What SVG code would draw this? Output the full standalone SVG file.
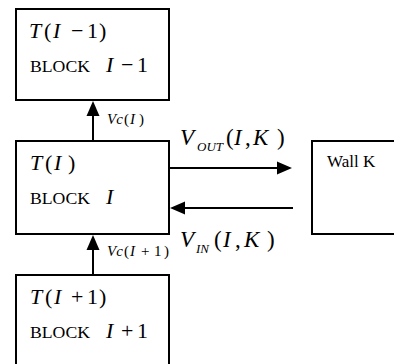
<svg xmlns="http://www.w3.org/2000/svg" width="394" height="364" viewBox="0 0 394 364" font-family="'Liberation Serif', 'Times New Roman', Times, 'DejaVu Serif', serif">
  <style>
    .box { fill: #fff; stroke: #000; stroke-width: 2; }
    .edge { stroke: #000; stroke-width: 2; fill: none; }
    .head { fill: #000; stroke: none; }
    text { font-family: 'Liberation Serif', 'Times New Roman', Times, 'DejaVu Serif', serif; fill: #000; }
    .m { font-style: italic; font-size: 22px; }
    .v { font-style: italic; font-size: 23px; }
    .r { font-style: normal; }
    .blk { font-size: 17px; }
    .sub { font-style: italic; font-size: 13px; }
    .vc { font-style: italic; font-size: 15px; }
  </style>
  <rect width="394" height="364" fill="#fff"/>

  <!-- block I-1 -->
  <g id="block-prev">
    <rect class="box" x="16" y="9" width="153" height="91"/>
    <text class="m" y="38"><tspan x="29">T</tspan><tspan class="r" x="44">(</tspan><tspan x="53">I</tspan><tspan class="r" x="71">−</tspan><tspan class="r" x="87">1</tspan><tspan class="r" x="99">)</tspan></text>
    <text class="blk" x="30" y="72" textLength="60" lengthAdjust="spacingAndGlyphs">BLOCK</text>
    <text class="m" y="72"><tspan x="106">I</tspan><tspan class="r" x="121">−</tspan><tspan class="r" x="137">1</tspan></text>
  </g>

  <!-- block I -->
  <g id="block-cur">
    <rect class="box" x="16" y="141" width="153" height="93"/>
    <text class="m" y="170"><tspan x="30">T</tspan><tspan class="r" x="45">(</tspan><tspan x="54">I</tspan><tspan class="r" x="68">)</tspan></text>
    <text class="blk" x="30" y="204" textLength="60" lengthAdjust="spacingAndGlyphs">BLOCK</text>
    <text class="m" x="106" y="204">I</text>
  </g>

  <!-- block I+1 -->
  <g id="block-next">
    <rect class="box" x="16" y="275" width="153" height="100"/>
    <text class="m" y="304"><tspan x="30">T</tspan><tspan class="r" x="45">(</tspan><tspan x="54">I</tspan><tspan class="r" x="71">+</tspan><tspan class="r" x="87">1</tspan><tspan class="r" x="99">)</tspan></text>
    <text class="blk" x="30" y="338" textLength="60" lengthAdjust="spacingAndGlyphs">BLOCK</text>
    <text class="m" y="338"><tspan x="106">I</tspan><tspan class="r" x="121">+</tspan><tspan class="r" x="137">1</tspan></text>
  </g>

  <!-- wall K -->
  <g id="wall-k">
    <rect class="box" x="312" y="141" width="100" height="93"/>
    <text class="blk" x="327" y="167">Wall K</text>
  </g>

  <!-- connectors -->
  <g id="connectors">
    <!-- Vc(I): block I to block I-1 -->
    <line class="edge" x1="93" y1="141" x2="93" y2="112"/>
    <polygon class="head" points="93,101 86.5,116 99.5,116"/>
    <text class="vc" y="124"><tspan x="107">Vc</tspan><tspan class="r" x="124">(</tspan><tspan x="130">I</tspan><tspan class="r" x="139">)</tspan></text>

    <!-- Vc(I+1): block I+1 to block I -->
    <line class="edge" x1="93" y1="275" x2="93" y2="246"/>
    <polygon class="head" points="93,235 86.5,250 99.5,250"/>
    <text class="vc" y="256"><tspan x="107">Vc</tspan><tspan class="r" x="124">(</tspan><tspan x="130">I</tspan><tspan class="r" x="141">+</tspan><tspan class="r" x="154">1</tspan><tspan class="r" x="164">)</tspan></text>

    <!-- V_OUT: block I to wall -->
    <line class="edge" x1="169" y1="168" x2="280" y2="168"/>
    <polygon class="head" points="292,168 277,161.5 277,174.5"/>
    <text class="v" y="145"><tspan x="180">V</tspan><tspan class="sub" x="197" dy="6">OUT</tspan><tspan class="r" x="226" dy="-6">(</tspan><tspan x="234">I</tspan><tspan class="r" x="245">,</tspan><tspan x="253">K</tspan><tspan class="r" x="277">)</tspan></text>

    <!-- V_IN: wall to block I -->
    <line class="edge" x1="293" y1="208" x2="182" y2="208"/>
    <polygon class="head" points="170,208 185,201.5 185,214.5"/>
    <text class="v" y="247"><tspan x="180">V</tspan><tspan class="sub" x="196" dy="6">IN</tspan><tspan class="r" x="214" dy="-6">(</tspan><tspan x="223">I</tspan><tspan class="r" x="235">,</tspan><tspan x="244">K</tspan><tspan class="r" x="267">)</tspan></text>
  </g>
</svg>
